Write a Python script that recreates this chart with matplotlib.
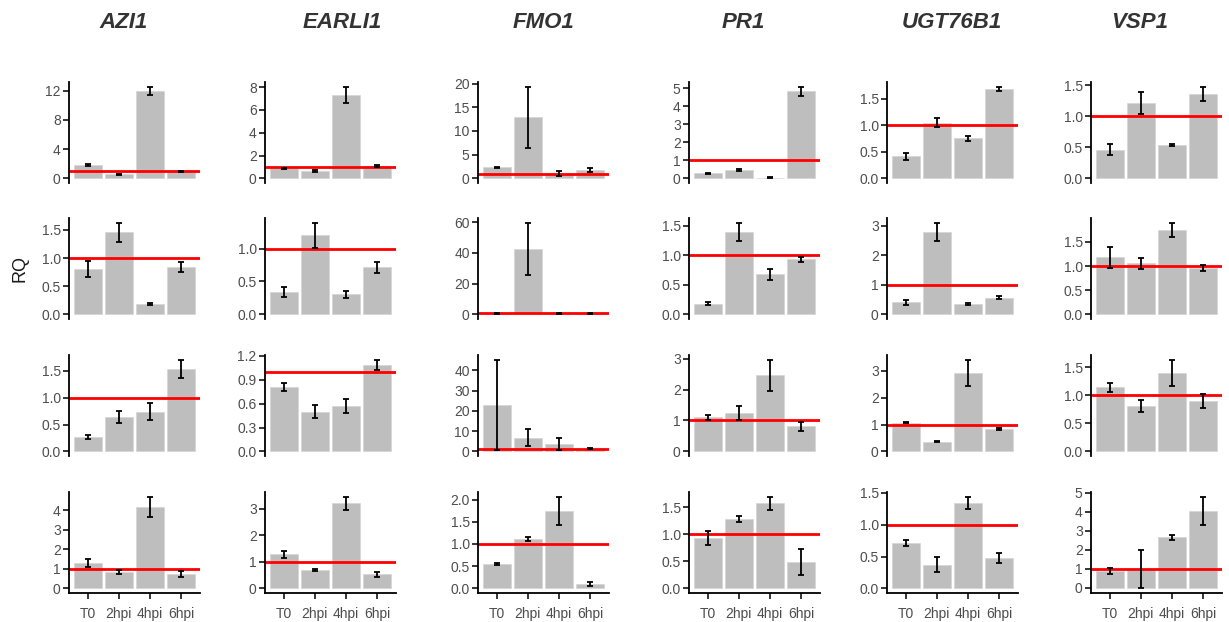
import numpy as np
import matplotlib
matplotlib.use("Agg")
import matplotlib.pyplot as plt

plt.rcParams["font.family"] = ["Liberation Sans", "DejaVu Sans"]

# %%
# Data: relative quantity (RQ) per gene, 4 rows x 4 time points, with error bars

genes = ["AZI1", "EARLI1", "FMO1", "PR1", "UGT76B1", "VSP1"]
timepoints = ["T0", "2hpi", "4hpi", "6hpi"]

azi1_rq = [[1.84, 0.58, 12.0, 0.98],
           [0.81, 1.46, 0.18, 0.84],
           [0.27, 0.64, 0.74, 1.54],
           [1.30, 0.84, 4.17, 0.74]]
azi1_err = [[0.08, 0.08, 0.55, 0.10],
            [0.14, 0.17, 0.02, 0.095],
            [0.03, 0.115, 0.155, 0.17],
            [0.18, 0.10, 0.53, 0.14]]

earli1_rq = [[0.89, 0.66, 7.34, 1.10],
             [0.34, 1.205, 0.305, 0.715],
             [0.81, 0.50, 0.565, 1.087],
             [1.28, 0.70, 3.20, 0.53]]
earli1_err = [[0.04, 0.08, 0.70, 0.06],
              [0.08, 0.19, 0.05, 0.085],
              [0.055, 0.085, 0.087, 0.066],
              [0.12, 0.04, 0.25, 0.09]]

fmo1_rq = [[2.3, 12.85, 1.05, 1.8],
           [0.25, 42.6, 0.2, 0.5],
           [23.1, 6.8, 3.7, 1.3],
           [0.55, 1.11, 1.747, 0.097]]
fmo1_err = [[0.02, 6.5, 0.5, 0.45],
            [0.3, 17.2, 0.3, 0.2],
            [22.2, 4.1, 2.9, 0.3],
            [0.03, 0.05, 0.32, 0.05]]

pr1_rq = [[0.29, 0.47, 0.04, 4.85],
          [0.18, 1.40, 0.68, 0.93],
          [1.10, 1.255, 2.457, 0.81],
          [0.927, 1.28, 1.57, 0.485]]
pr1_err = [[0.03, 0.05, 0.02, 0.25],
           [0.025, 0.155, 0.095, 0.045],
           [0.08, 0.225, 0.51, 0.145],
           [0.13, 0.06, 0.125, 0.235]]

ugt76b1_rq = [[0.415, 1.05, 0.75, 1.68],
              [0.41, 2.79, 0.345, 0.57],
              [1.07, 0.366, 2.93, 0.84],
              [0.71, 0.373, 1.347, 0.48]]
ugt76b1_err = [[0.065, 0.08, 0.04, 0.045],
               [0.09, 0.31, 0.04, 0.05],
               [0.03, 0.03, 0.49, 0.04],
               [0.05, 0.12, 0.095, 0.078]]

vsp1_rq = [[0.46, 1.21, 0.537, 1.36],
           [1.18, 1.06, 1.75, 0.96],
           [1.147, 0.81, 1.40, 0.90],
           [0.876, 0.98, 2.646, 4.04]]
vsp1_err = [[0.088, 0.175, 0.02, 0.12],
            [0.22, 0.11, 0.15, 0.055],
            [0.08, 0.105, 0.24, 0.12],
            [0.18, 1.02, 0.12, 0.75]]

azi1_ticks = [[0, 4, 8, 12], [0, 0.5, 1, 1.5], [0, 0.5, 1, 1.5], [0, 1, 2, 3, 4]]
earli1_ticks = [[0, 2, 4, 6, 8], [0, 0.5, 1], [0, 0.3, 0.6, 0.9, 1.2], [0, 1, 2, 3]]
fmo1_ticks = [[0, 5, 10, 15, 20], [0, 20, 40, 60], [0, 10, 20, 30, 40], [0, 0.5, 1, 1.5, 2]]
pr1_ticks = [[0, 1, 2, 3, 4, 5], [0, 0.5, 1, 1.5], [0, 1, 2, 3], [0, 0.5, 1, 1.5]]
ugt76b1_ticks = [[0, 0.5, 1, 1.5], [0, 1, 2, 3], [0, 1, 2, 3], [0, 0.5, 1, 1.5]]
vsp1_ticks = [[0, 0.5, 1, 1.5], [0, 0.5, 1, 1.5], [0, 0.5, 1, 1.5], [0, 1, 2, 3, 4, 5]]

rq_all = [azi1_rq, earli1_rq, fmo1_rq, pr1_rq, ugt76b1_rq, vsp1_rq]
err_all = [azi1_err, earli1_err, fmo1_err, pr1_err, ugt76b1_err, vsp1_err]
ticks_all = [azi1_ticks, earli1_ticks, fmo1_ticks, pr1_ticks, ugt76b1_ticks, vsp1_ticks]


def fmt_ticks(ticks):
    dec = max(len(f"{t:g}".split(".")[1]) if "." in f"{t:g}" else 0 for t in ticks)
    return [f"{t:.{dec}f}" for t in ticks]


# %%
# Layout (pixels)

W, H = 1229, 622
fig = plt.figure(figsize=(W / 100, H / 100), dpi=100)

col_left = [69, 265, 478, 689, 887, 1091]
row_top = [82, 218, 355, 492]
pw, ph = 131, 101
title_x = [124, 342, 543, 743, 952, 1140]

x = np.arange(1, 5)
for c, gene in enumerate(genes):
    fig.text(title_x[c] / W, 1 - 23 / H, gene, fontsize=16, fontweight="bold",
             fontstyle="italic", color="#333333", ha="center", va="center")
    for r in range(4):
        rq = np.array(rq_all[c][r])
        err = np.array(err_all[c][r])
        ax = fig.add_axes([col_left[c] / W, 1 - (row_top[r] + ph) / H, pw / W, ph / H])
        ax.bar(x, rq, width=0.9, color="#bebebe", edgecolor="#d4d4d4", linewidth=0.5, zorder=1)
        ax.axhline(1, color="red", lw=2.0, zorder=2)
        ax.errorbar(x, rq, yerr=err, fmt="none", ecolor="black", elinewidth=1.3,
                    capsize=2.5, capthick=1.3, zorder=3)

        lo = min(0, (rq - err).min(), 1)
        hi = max((rq + err).max(), 1)
        span = hi - lo
        ax.set_ylim(lo - 0.05 * span, hi + 0.05 * span)
        ax.set_xlim(0.4, 4.6)

        ticks = ticks_all[c][r]
        ax.set_yticks(ticks)
        ax.set_yticklabels(fmt_ticks(ticks))

        for s in ["top", "right"]:
            ax.spines[s].set_visible(False)
        ax.spines["left"].set_linewidth(1.3)
        ax.tick_params(axis="y", length=4, width=1.1, color="black",
                       labelsize=10, labelcolor="#4d4d4d", pad=2)
        if r == 3:
            ax.spines["bottom"].set_linewidth(1.3)
            ax.set_xticks(x)
            ax.set_xticklabels(timepoints)
            ax.tick_params(axis="x", length=4, width=1.1, color="black",
                           labelsize=10, labelcolor="#4d4d4d", pad=6)
        else:
            ax.spines["bottom"].set_visible(False)
            ax.set_xticks([])

fig.text(20 / W, 1 - 268 / H, "RQ", fontsize=13, rotation=90,
         ha="center", va="center", color="#1a1a1a")

fig.savefig("out.png", dpi=100)
